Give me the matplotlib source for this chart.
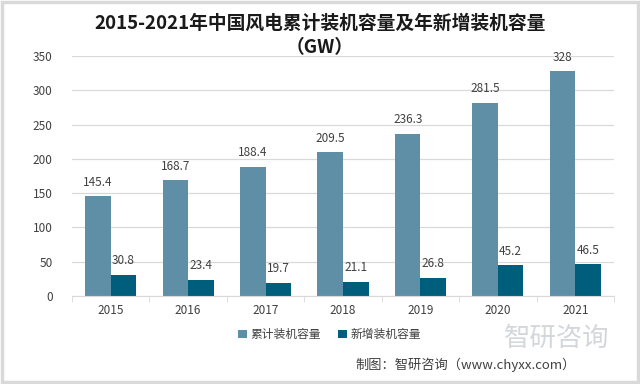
import numpy as np
import matplotlib.pyplot as plt
from matplotlib.patches import Rectangle

plt.rcParams['font.family'] = ['Noto Sans CJK SC', 'DejaVu Sans']

years = ['2015', '2016', '2017', '2018', '2019', '2020', '2021']
cumulative = [145.4, 168.7, 188.4, 209.5, 236.3, 281.5, 328]
new_added = [30.8, 23.4, 19.7, 21.1, 26.8, 45.2, 46.5]
labels = ['累计装机容量', '新增装机容量']

c1 = '#5F8FA6'
c2 = '#005E7D'

fig = plt.figure(figsize=(6.4, 3.84), dpi=100)
ax = fig.add_axes([0.1125, 0.229, 0.847, 0.625])

x = np.arange(len(years))
w = 0.33
b1 = ax.bar(x - w / 2, cumulative, w, color=c1, label=labels[0])
b2 = ax.bar(x + w / 2, new_added, w, color=c2, label=labels[1])

for rect, v in zip(b1, cumulative):
    ax.text(rect.get_x() + rect.get_width() / 2, v + 11, f'{v:g}',
            ha='center', va='bottom', fontsize=8.5, color='#404040')
for rect, v in zip(b2, new_added):
    ax.text(rect.get_x() + rect.get_width() / 2, v + 11, f'{v:g}',
            ha='center', va='bottom', fontsize=8.5, color='#404040')

ax.set_xlim(-0.5, len(years) - 0.5)
ax.set_ylim(0, 350)
ax.set_yticks(range(0, 351, 50))
ax.set_xticks(x)
ax.set_xticklabels(years)
ax.yaxis.grid(True, color='#D9D9D9', linewidth=0.9)
ax.set_axisbelow(True)
for s in ['top', 'right', 'left']:
    ax.spines[s].set_visible(False)
ax.spines['bottom'].set_color('#D9D9D9')
ax.tick_params(axis='y', length=0, labelsize=8.5, labelcolor='#404040', pad=14)
ax.tick_params(axis='x', length=0, labelsize=8.5, labelcolor='#404040', pad=6)
# minor ticks between categories
ax.set_xticks(np.arange(-0.5, len(years), 1), minor=True)
ax.tick_params(axis='x', which='minor', length=4, color='#D9D9D9')

fig.text(0.5, 0.94, '2015-2021年中国风电累计装机容量及年新增装机容量',
         ha='center', va='center', fontsize=13.5, fontweight='bold', color='#1a1a1a')
fig.text(0.5, 0.875, '（GW）', ha='center', va='center', fontsize=13.5,
         fontweight='bold', color='#1a1a1a')

fig.legend(handles=[b1, b2], labels=labels, loc='center', bbox_to_anchor=(0.515, 0.128),
           ncol=2, frameon=False, fontsize=8.5, handlelength=0.7, handleheight=0.7,
           handletextpad=0.3, columnspacing=1.5, labelcolor='#404040')

fig.text(0.555, 0.05, '制图：智研咨询（www.chyxx.com）', ha='left', va='center',
         fontsize=9.5, color='#404040')
fig.text(0.87, 0.12, '智研咨询', ha='center', va='center', fontsize=19,
         color='#C8CDD3', alpha=0.8)

fig.patches.append(Rectangle((0.003, 0.004), 0.994, 0.992, transform=fig.transFigure,
                             fill=False, edgecolor='#D9D9D9', linewidth=2.5))

fig.savefig('out.png', dpi=100)
